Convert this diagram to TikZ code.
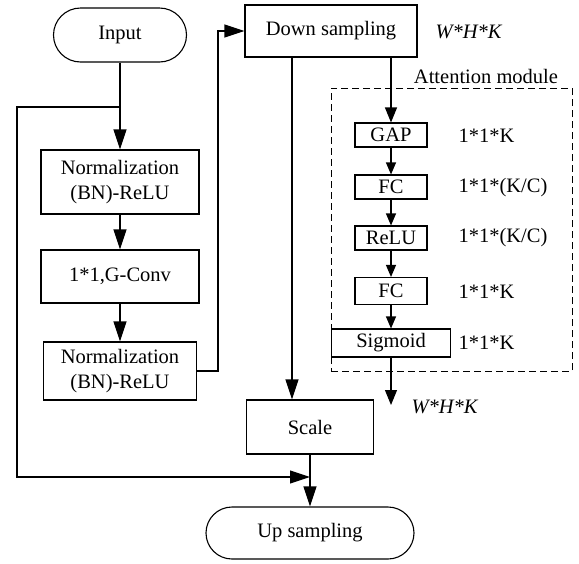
\documentclass[tikz,border=0pt]{standalone}
\usepackage{fontspec}
\setmainfont{Liberation Serif}
\usetikzlibrary{arrows.meta}
\begin{document}
\begin{tikzpicture}[x=1pt,y=-1pt, line width=1.1pt,
  txt/.style={font=\fontsize{20.5}{25}\selectfont},
  box/.style={draw, inner sep=0pt, align=center, txt},
  sbox/.style={box, minimum width=72pt, minimum height=24pt},
  lab/.style={anchor=west, inner sep=0pt, txt},
  big/.style={-{Triangle[length=20pt,width=13pt]}},
  mid/.style={-{Triangle[length=15pt,width=12pt]}},
  small/.style={-{Triangle[length=12pt,width=10pt]}},
]
\useasboundingbox (0,0) rectangle (579,563);
% left column
\node[box, rounded corners=27pt, minimum width=133pt, minimum height=54pt] (input) at (120,35) {Input};
\node[box, minimum width=158pt, minimum height=64pt] (bn1) at (120,182) {Normalization\\(BN)-ReLU};
\node[box, minimum width=158pt, minimum height=53pt] (conv) at (120,276.5) {1*1,G-Conv};
\node[box, minimum width=153pt, minimum height=58pt] (bn2) at (120,371) {Normalization\\(BN)-ReLU};
% middle
\node[box, minimum width=172pt, minimum height=52pt] (down) at (331,31) {Down sampling};
\node[box, minimum width=127pt, minimum height=54pt] (scale) at (310,427) {Scale};
\node[box, rounded corners=26pt, minimum width=208pt, minimum height=52pt] (up) at (310,533) {Up sampling};
\node[txt, inner sep=0pt] (whk1) at (469,32) {\textit{W*H*K}};
% attention module
\node[draw, dash pattern=on 7pt off 4pt, line width=1pt, minimum width=241pt, minimum height=283pt, inner sep=0pt] (att) at (451.5,229.5) {};
\node[txt, inner sep=0pt] (attlab) at (486,76) {Attention module};
\node[sbox] (gap) at (391,135) {GAP};
\node[sbox] (fc1) at (391,187) {FC};
\node[sbox] (relu) at (391,238) {ReLU};
\node[sbox, minimum height=27pt] (fc2) at (391,291) {FC};
\node[box, minimum width=119pt, minimum height=28pt] (sig) at (391,343) {Sigmoid};
\node[lab] (l1) at (458,136) {1*1*K};
\node[lab] (l2) at (458,188) {1*1*(K/C)};
\node[lab] (l3) at (458,238) {1*1*(K/C)};
\node[lab] (l4) at (458,292) {1*1*K};
\node[lab] (l5) at (458,343) {1*1*K};
\node[lab] (whk2) at (411,407) {\textit{W*H*K}};
% coordinates
\coordinate (j) at (120,107);
\coordinate (lc) at (17,107);
\coordinate (lb) at (17,477);
\coordinate (rx) at (218,371);
\coordinate (dl) at (292,57);
\coordinate (sigout) at (391,405);
% connectors
\draw[big] (input) -- (bn1);
\draw[big] (bn1) -- (conv);
\draw[big] (conv) -- (bn2);
\draw[big] (j) -- (lc) -- (lb) -- (lb -| scale.south);
\draw[big] (bn2.east) -- (rx) |- (down.west);
\draw[big] (dl) -- (dl |- scale.north);
\draw[mid] (gap.north |- down.south) -- (gap.north);
\draw[small] (gap) -- (fc1);
\draw[small] (fc1) -- (relu);
\draw[small] (relu) -- (fc2);
\draw[small] (fc2) -- (sig);
\draw[mid] (sig.south) -- (sigout);
\draw[big] (scale) -- (up);
\end{tikzpicture}
\end{document}
